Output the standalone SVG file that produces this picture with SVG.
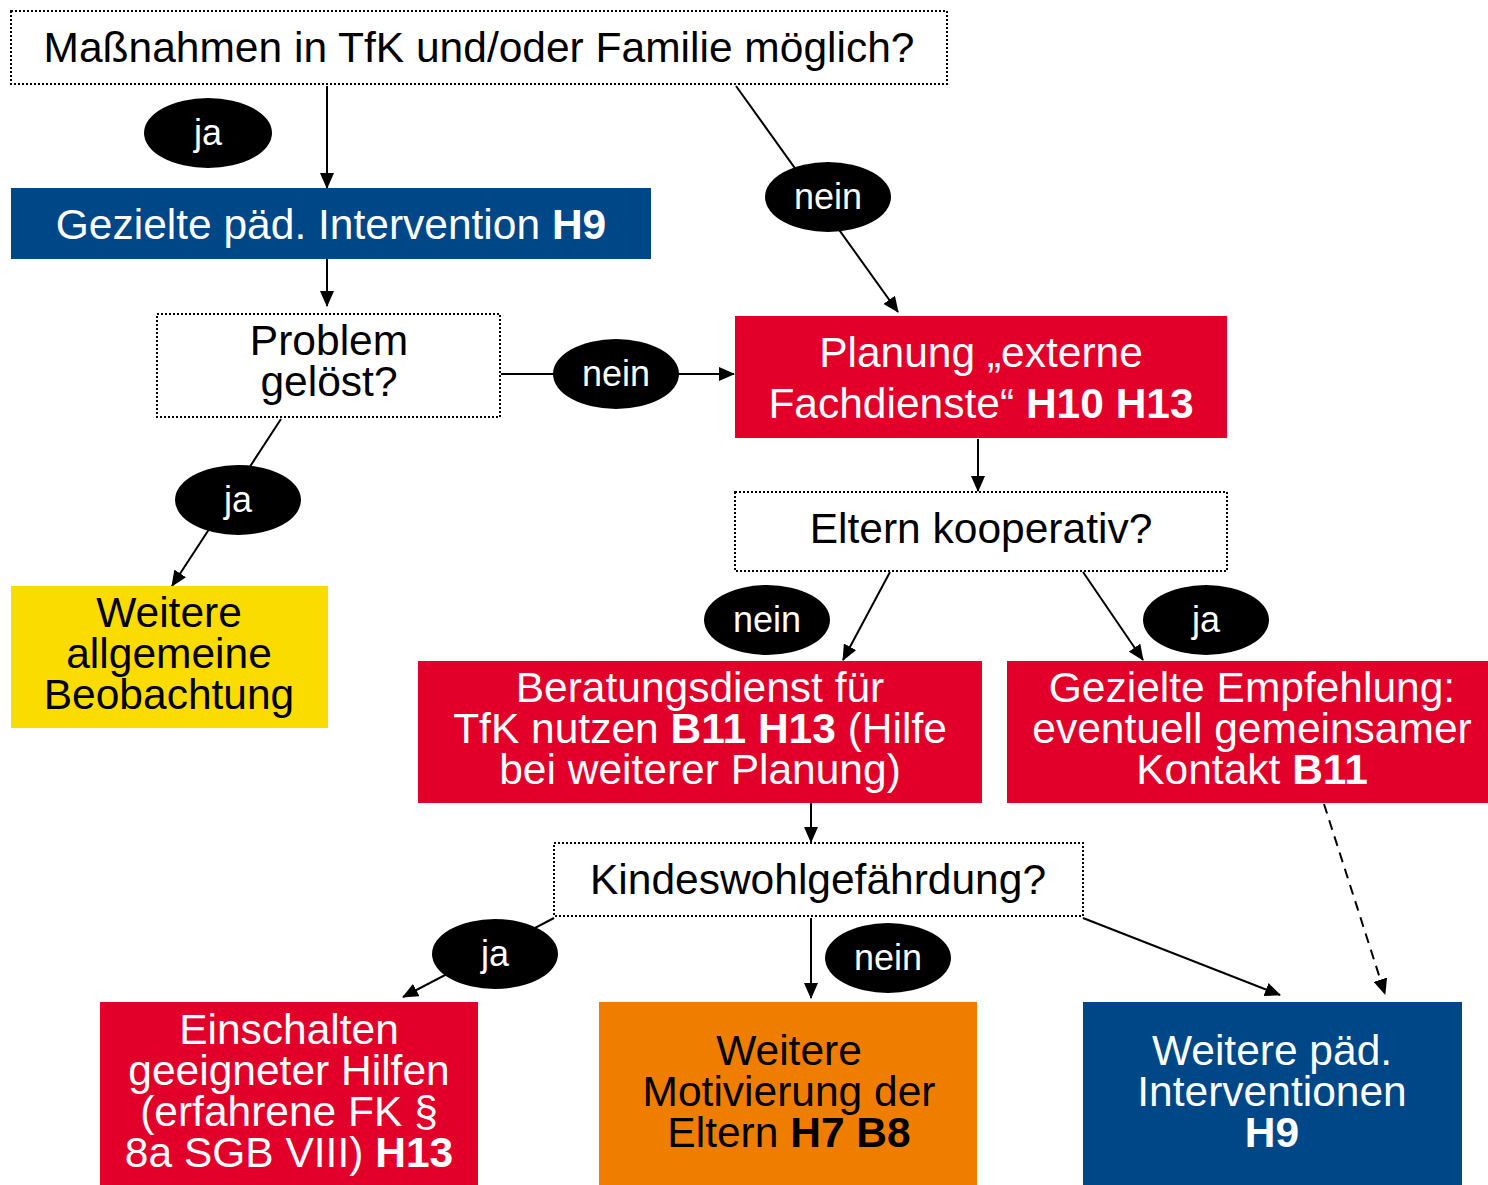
<svg xmlns="http://www.w3.org/2000/svg" width="1488" height="1185" viewBox="0 0 1488 1185">
<defs>
<style>
text{font-family:"Liberation Sans",Arial,sans-serif;text-anchor:middle}
.t{font-size:42.5px}
.w{fill:#fff}
.k{fill:#000}
.b{font-weight:bold}
.q{fill:#fff;stroke:#000;stroke-width:2;stroke-dasharray:2 2}
.lab{fill:#000}
.lt{font-size:36px;fill:#fff}
.c{stroke:#000;stroke-width:2;fill:none}
.d{stroke-dasharray:10 7}
</style>
<marker id="ah" markerWidth="16" markerHeight="14" refX="15" refY="7" orient="auto" markerUnits="userSpaceOnUse">
<path d="M0,0 L16,7 L0,14 Z" fill="#000"/>
</marker>
</defs>
<rect width="1488" height="1185" fill="#fff"/>

<g id="connectors">
<line class="c" x1="327" y1="86" x2="327" y2="188" marker-end="url(#ah)"/>
<line class="c" x1="736" y1="86" x2="898" y2="312" marker-end="url(#ah)"/>
<line class="c" x1="327" y1="259" x2="327" y2="306" marker-end="url(#ah)"/>
<line class="c" x1="501" y1="374" x2="734" y2="374" marker-end="url(#ah)"/>
<line class="c" x1="281" y1="419" x2="172" y2="586" marker-end="url(#ah)"/>
<line class="c" x1="978" y1="439" x2="978" y2="491" marker-end="url(#ah)"/>
<line class="c" x1="890" y1="572" x2="843" y2="660" marker-end="url(#ah)"/>
<line class="c" x1="1083" y1="572" x2="1143" y2="660" marker-end="url(#ah)"/>
<line class="c" x1="811" y1="803" x2="811" y2="842" marker-end="url(#ah)"/>
<line class="c" x1="554" y1="918" x2="403" y2="997" marker-end="url(#ah)"/>
<line class="c" x1="811" y1="918" x2="811" y2="998" marker-end="url(#ah)"/>
<line class="c" x1="1083" y1="918" x2="1280" y2="995" marker-end="url(#ah)"/>
<line class="c d" x1="1324" y1="804" x2="1385" y2="994" marker-end="url(#ah)"/>
</g>

<g id="n-massnahmen">
<rect class="q" x="11" y="11" width="936" height="73"/>
<text class="t k" x="479" y="62">Maßnahmen in TfK und/oder Familie möglich?</text>
</g>

<g id="l-ja1">
<ellipse class="lab" cx="208" cy="133" rx="64" ry="35"/>
<text class="lt" x="208" y="145">ja</text>
</g>

<g id="l-nein1">
<ellipse class="lab" cx="828" cy="197" rx="63" ry="35"/>
<text class="lt" x="828" y="209">nein</text>
</g>

<g id="n-gezielte">
<rect x="11" y="188" width="640" height="71" fill="#004787"/>
<text class="t w" x="331" y="239">Gezielte päd. Intervention <tspan class="b">H9</tspan></text>
</g>

<g id="n-problem">
<rect class="q" x="157" y="314" width="343" height="103"/>
<text class="t k" x="329" y="355">Problem</text>
<text class="t k" x="329" y="396">gelöst?</text>
</g>

<g id="l-nein2">
<ellipse class="lab" cx="616" cy="374" rx="63" ry="35"/>
<text class="lt" x="616" y="386">nein</text>
</g>

<g id="n-planung">
<rect x="735" y="316" width="492" height="122" fill="#e2002a"/>
<text class="t w" x="981" y="367">Planung „externe</text>
<text class="t w" x="981" y="418">Fachdienste“ <tspan class="b">H10 H13</tspan></text>
</g>

<g id="l-ja2">
<ellipse class="lab" cx="238" cy="500" rx="63" ry="35"/>
<text class="lt" x="238" y="512">ja</text>
</g>

<g id="n-weitere-beob">
<rect x="11" y="586" width="317" height="142" fill="#fadc00"/>
<text class="t k" x="169" y="627">Weitere</text>
<text class="t k" x="169" y="668">allgemeine</text>
<text class="t k" x="169" y="709">Beobachtung</text>
</g>

<g id="n-eltern">
<rect class="q" x="735" y="492" width="492" height="79"/>
<text class="t k" x="981" y="543">Eltern kooperativ?</text>
</g>

<g id="l-nein3">
<ellipse class="lab" cx="767" cy="620" rx="63" ry="35"/>
<text class="lt" x="767" y="632">nein</text>
</g>

<g id="l-ja3">
<ellipse class="lab" cx="1206" cy="620" rx="63" ry="35"/>
<text class="lt" x="1206" y="632">ja</text>
</g>

<g id="n-beratung">
<rect x="418" y="661" width="564" height="142" fill="#e2002a"/>
<text class="t w" x="700" y="702">Beratungsdienst für</text>
<text class="t w" x="700" y="743">TfK nutzen <tspan class="b">B11 H13</tspan> (Hilfe</text>
<text class="t w" x="700" y="784">bei weiterer Planung)</text>
</g>

<g id="n-empfehlung">
<rect x="1007" y="661" width="481" height="142" fill="#e2002a"/>
<text class="t w" x="1252" y="702">Gezielte Empfehlung:</text>
<text class="t w" x="1252" y="743">eventuell gemeinsamer</text>
<text class="t w" x="1252" y="784">Kontakt <tspan class="b">B11</tspan></text>
</g>

<g id="n-kindeswohl">
<rect class="q" x="554" y="843" width="529" height="73"/>
<text class="t k" x="818" y="894">Kindeswohlgefährdung?</text>
</g>

<g id="l-ja4">
<ellipse class="lab" cx="495" cy="954" rx="63" ry="35"/>
<text class="lt" x="495" y="966">ja</text>
</g>

<g id="l-nein4">
<ellipse class="lab" cx="888" cy="958" rx="63" ry="35"/>
<text class="lt" x="888" y="970">nein</text>
</g>

<g id="n-einschalten">
<rect x="100" y="1002" width="378" height="183" fill="#e2002a"/>
<text class="t w" x="289" y="1044">Einschalten</text>
<text class="t w" x="289" y="1085">geeigneter Hilfen</text>
<text class="t w" x="289" y="1126">(erfahrene FK §</text>
<text class="t w" x="289" y="1167">8a SGB VIII) <tspan class="b">H13</tspan></text>
</g>

<g id="n-motivierung">
<rect x="599" y="1002" width="378" height="183" fill="#ef7d00"/>
<text class="t k" x="789" y="1065">Weitere</text>
<text class="t k" x="789" y="1106">Motivierung der</text>
<text class="t k" x="789" y="1147">Eltern <tspan class="b">H7 B8</tspan></text>
</g>

<g id="n-weitere-int">
<rect x="1083" y="1002" width="379" height="183" fill="#004787"/>
<text class="t w" x="1272" y="1065">Weitere päd.</text>
<text class="t w" x="1272" y="1106">Interventionen</text>
<text class="t w b" x="1272" y="1147">H9</text>
</g>
</svg>
